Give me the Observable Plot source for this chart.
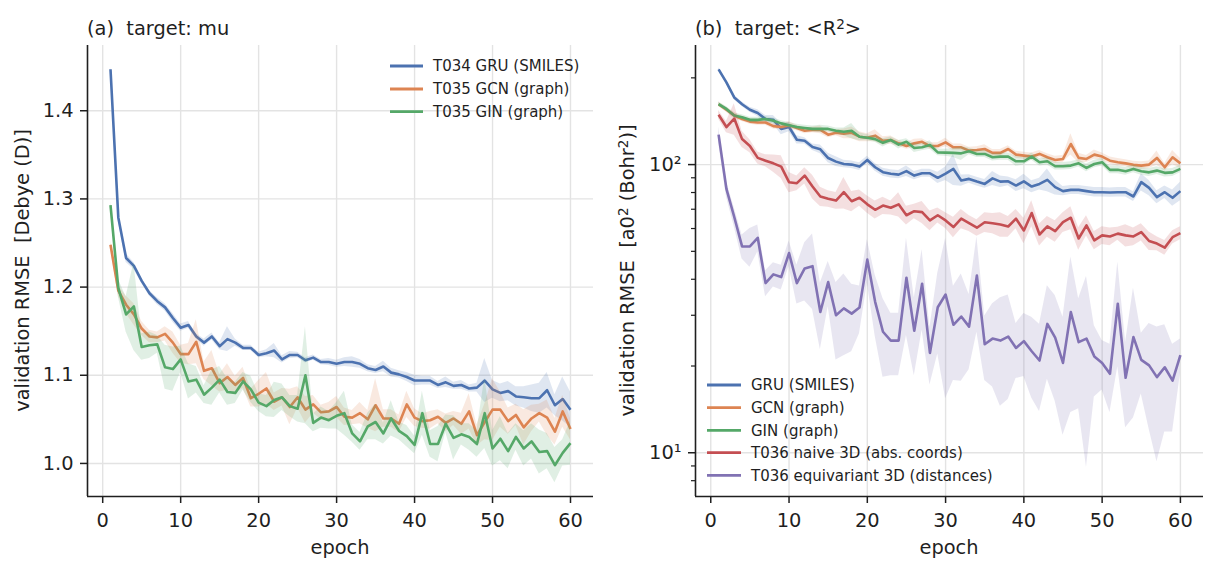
<!DOCTYPE html>
<html><head><meta charset="utf-8">
<script src="https://cdn.jsdelivr.net/npm/d3@7"></script>
<script src="https://cdn.jsdelivr.net/npm/@observablehq/plot@0.6"></script>
<style>
html,body{margin:0;padding:0;background:#fff;}
#wrap{position:relative;width:1217px;height:573px;overflow:hidden;}
#wrap > svg{position:absolute;top:0;}
#wrap text{white-space:pre;}
</style></head><body><div id="wrap"></div>
<script>
// ---------- data ----------
const epochs = d3.range(1, 61);
const xTicks = [0, 10, 20, 30, 40, 50, 60];
const muTicks = [1.0, 1.1, 1.2, 1.3, 1.4];
const r2Ticks = [10, 100];
const r2MinorTicks = [8, 9, 20, 30, 40, 50, 60, 70, 80, 90, 200];

const muNames = ["T034 GRU (SMILES)", "T035 GCN (graph)", "T035 GIN (graph)"];
const muGRU = [1.447,1.279,1.233,1.224,1.207,1.193,1.184,1.177,1.165,1.154,
  1.157,1.144,1.137,1.144,1.133,1.141,1.137,1.131,1.131,1.123,
  1.125,1.128,1.118,1.123,1.123,1.117,1.120,1.115,1.115,1.113,
  1.115,1.115,1.113,1.108,1.106,1.110,1.103,1.101,1.098,1.094,
  1.094,1.094,1.089,1.092,1.088,1.089,1.085,1.086,1.094,1.084,
  1.080,1.082,1.076,1.075,1.074,1.074,1.083,1.066,1.073,1.061];
const muGRUStd = [0.003,0.004,0.005,0.004,0.003,0.003,0.004,0.004,0.005,0.004,
  0.004,0.003,0.004,0.004,0.004,0.014,0.004,0.003,0.003,0.003,
  0.004,0.008,0.004,0.004,0.003,0.003,0.003,0.003,0.004,0.004,
  0.005,0.006,0.005,0.004,0.004,0.006,0.005,0.004,0.005,0.006,
  0.005,0.005,0.004,0.006,0.004,0.005,0.004,0.005,0.025,0.010,
  0.010,0.011,0.011,0.012,0.015,0.017,0.020,0.012,0.025,0.020];
const muGCN = [1.248,1.196,1.180,1.169,1.153,1.144,1.143,1.147,1.137,1.124,
  1.124,1.138,1.105,1.108,1.091,1.098,1.089,1.097,1.074,1.079,
  1.085,1.070,1.075,1.064,1.075,1.061,1.067,1.058,1.059,1.064,
  1.053,1.052,1.057,1.050,1.066,1.051,1.051,1.045,1.067,1.052,
  1.048,1.049,1.053,1.046,1.051,1.045,1.059,1.032,1.047,1.061,
  1.061,1.048,1.055,1.041,1.051,1.057,1.052,1.036,1.059,1.039];
const muGCNStd = [0.004,0.006,0.010,0.012,0.008,0.007,0.006,0.008,0.012,0.010,
  0.012,0.025,0.010,0.020,0.010,0.015,0.010,0.012,0.010,0.015,
  0.018,0.010,0.010,0.020,0.012,0.015,0.010,0.008,0.010,0.012,
  0.010,0.008,0.012,0.010,0.030,0.010,0.010,0.010,0.015,0.010,
  0.008,0.010,0.008,0.010,0.008,0.012,0.020,0.012,0.020,0.035,
  0.020,0.015,0.012,0.020,0.015,0.010,0.020,0.015,0.018,0.012];
const muGIN = [1.293,1.199,1.169,1.178,1.132,1.134,1.135,1.109,1.107,1.118,
  1.093,1.095,1.078,1.086,1.095,1.081,1.080,1.093,1.084,1.069,
  1.065,1.072,1.075,1.065,1.062,1.100,1.046,1.052,1.049,1.054,
  1.057,1.034,1.025,1.042,1.047,1.034,1.051,1.037,1.031,1.021,
  1.057,1.022,1.022,1.045,1.029,1.033,1.030,1.022,1.057,1.017,
  1.028,1.014,1.030,1.017,1.025,1.013,1.014,0.998,1.012,1.023];
const muGINStd = [0.004,0.010,0.020,0.050,0.015,0.015,0.010,0.025,0.025,0.015,
  0.020,0.015,0.010,0.020,0.015,0.015,0.012,0.010,0.015,0.010,
  0.012,0.020,0.015,0.012,0.015,0.055,0.010,0.012,0.010,0.015,
  0.025,0.010,0.010,0.015,0.020,0.012,0.020,0.010,0.012,0.010,
  0.025,0.015,0.020,0.010,0.025,0.012,0.015,0.015,0.040,0.020,
  0.025,0.020,0.015,0.020,0.020,0.025,0.020,0.020,0.015,0.025];

const r2Names = ["GRU (SMILES)", "GCN (graph)", "GIN (graph)", "T036 naive 3D (abs. coords)", "T036 equivariant 3D (distances)"];
const r2GRU = [214,193,171,162,155,151,144,143,133,135,
  122,121,115,113,105.4,102.4,100.5,100,98.4,103.8,
  97.9,94.1,92.9,92.3,94.9,91.6,93.3,93.3,90,93,
  96.6,88.1,89.2,87.3,85.7,89.6,87.3,87.5,84.6,87.5,
  83.9,85.7,88.5,83.5,80.9,81.7,81.7,80.9,80.2,80.2,
  80,80.2,80.2,77.5,86.9,83,77.1,80.2,76.7,80.9];
const r2GRUStd = [3,3,3,3,3,4,4,5,6,5, 4,3,3,4,4,4,3,3,3,3,
  3,3,3,3,4,3,3,3,4,5, 12,4,3,3,3,5,4,3,4,5,
  4,4,8,5,3,3,3,3,3,3, 3,3,3,3,6,5,4,4,5,6];
const r2GCN = [162,155,148,144,141,140,140,136,135,137,
  134,131,132,132,127,129,128,129,125,124,
  126,121,121.7,118.5,116,118.5,120,116,116,119.4,
  114.8,114.8,111.8,112.4,113.3,109.8,109.8,113.3,108.3,107.4,
  106.6,108.9,106,103.8,104.6,117.9,105.5,104.6,108.3,106.6,
  103.2,101.9,101,99.8,99.2,100,105.5,97.9,106,101];
const r2GCNStd = [3,3,4,3,3,3,3,3,3,4, 3,3,3,4,3,3,5,6,5,4,
  6,4,4,3,3,4,3,3,3,4, 3,3,3,3,4,3,3,3,3,3,
  3,3,3,3,3,10,4,3,4,3, 3,3,3,3,3,3,6,3,6,4];
const r2GIN = [162,156,148,146,143,143,144,142,139,137,
  135,134,133,133,133,131,130,131,125,124,
  122.6,119,121.7,117.3,120,114.2,114.8,117,110.3,110,
  109.8,109.4,111.2,108.9,108.9,106,106.6,106.6,102.7,102.7,
  106.6,101.9,102.7,98.7,98.7,99.2,101,97.4,100.5,101.9,
  95.9,95.9,94.8,96.6,94.8,94,95.3,93.6,94,96.6];
const r2GINStd = [3,3,3,3,3,3,3,3,3,3, 3,3,3,4,3,3,4,8,4,3,
  3,4,3,4,3,4,3,4,3,3, 4,6,3,3,3,3,3,3,4,3,
  3,3,3,3,3,3,3,3,3,3, 3,3,3,3,3,3,3,3,3,3];
const r2Naive = [149,135,144.5,122.6,116,105.5,103.2,101,98.4,86.9,
  86.2,91.6,83.9,77.5,76.1,75,80.2,74.6,76.7,72.8,
  69.7,72.1,70.8,72.8,66.7,68.9,68.4,64,66.7,64,
  60.7,64.9,62.6,60.4,63.1,62.6,62,61,64.9,59.1,
  67.9,57.2,61,58.8,63.1,65.4,55.4,61.5,54.6,56.8,
  56.3,57.6,56.8,56.3,58.3,54.3,53.2,51.5,56,57.8];
const r2NaiveStd = [5,6,18,8,6,5,5,7,9,7, 5,6,8,6,5,5,10,6,5,5,
  5,5,4,7,5,4,6,5,4,4, 5,5,4,4,5,5,6,5,5,6,
  7,5,5,5,5,6,5,5,4,4, 4,3,5,4,4,4,3,3,3,3];
const r2Equiv = [127,82.4,65.8,52,52,55.7,38.8,41.6,40.7,49.3,
  38.8,43.6,44.4,30.8,39.1,30,31.7,30.4,31.9,46.8,
  33.4,26.3,24.5,24.5,40.5,26.5,38.6,22.2,32,35.4,
  27.8,29.7,27.4,41.2,23.8,24.9,24.5,25.3,23.1,24.4,
  22.5,20.9,28,25.1,20.5,30.8,24.2,24.9,21.6,20.5,
  18.8,32.9,18.2,25.2,21,20.1,18.3,19.8,17.8,21.8];
const r2EquivStd = [8,5,5,5,8,6,4,4,4,5, 6,10,13,8,7,9,10,8,6,8,
  8,8,6,6,15,8,12,5,10,20, 10,12,8,15,6,8,10,10,5,6,
  7,7,10,10,9,17,10,16,6,4, 5,13,6,12,5,8,9,8,6,3];

const colors = ["#4C72B0", "#DD8452", "#55A868", "#C44E52", "#8172B3"];

// ---------- helpers ----------
const xDomain = [-1.95, 62.95];
const muDomain = [0.9625, 1.474];
const r2Domain = [7.05, 259];
const FONT = "DejaVu Sans";
const INK = "#1f1f1f";

function rows(vals, std) {
  return epochs.map((e, i) => ({epoch: e, value: vals[i], lo: vals[i] - std[i], hi: vals[i] + std[i]}));
}
function seriesMarks(list) {
  return list.flatMap(s => [
    Plot.areaY(rows(s.vals, s.std), {x: "epoch", y1: "lo", y2: "hi", fill: s.color, fillOpacity: 0.18}),
    Plot.lineY(rows(s.vals, s.std), {x: "epoch", y: "value", stroke: s.color, strokeWidth: 2.6, strokeLinejoin: "round", strokeLinecap: "butt"})
  ]);
}
const gridStyle = {stroke: "#e3e3e3", strokeOpacity: 1, strokeWidth: 1.4};

const muSeries = [
  {vals: muGRU, std: muGRUStd, color: colors[0]},
  {vals: muGCN, std: muGCNStd, color: colors[1]},
  {vals: muGIN, std: muGINStd, color: colors[2]}
];
const r2Series = [
  {vals: r2GRU, std: r2GRUStd, color: colors[0]},
  {vals: r2GCN, std: r2GCNStd, color: colors[1]},
  {vals: r2GIN, std: r2GINStd, color: colors[2]},
  {vals: r2Naive, std: r2NaiveStd, color: colors[3]},
  {vals: r2Equiv, std: r2EquivStd, color: colors[4]}
];

const common = {
  height: 573, marginTop: 45, marginBottom: 77,
  style: {fontFamily: FONT, fontSize: "19.4px", color: INK, background: "transparent", overflow: "visible"}
};

const left = Plot.plot({
  ...common, width: 608, marginLeft: 87, marginRight: 15,
  x: {domain: xDomain},
  y: {domain: muDomain},
  marks: [
    Plot.gridX(xTicks, gridStyle),
    Plot.gridY(muTicks, gridStyle),
    ...seriesMarks(muSeries),
    Plot.axisX(xTicks, {tickSize: 7, tickPadding: 10, fontSize: 19.4, stroke: INK, strokeWidth: 1.5, fill: INK, label: null}),
    Plot.axisY(muTicks, {tickSize: 7, tickPadding: 7, fontSize: 19.4, stroke: INK, strokeWidth: 1.5, fill: INK, tickFormat: d3.format(".1f"), label: null}),
    Plot.ruleX([xDomain[0]], {stroke: INK, strokeWidth: 1.6}),
    Plot.ruleY([muDomain[0]], {stroke: INK, strokeWidth: 1.6})
  ]
});
left.style.left = "0px";

const supFmt = d => d === 10 ? "10¹" : d === 100 ? "10²" : String(d);
const right = Plot.plot({
  ...common, width: 609, marginLeft: 87, marginRight: 14,
  x: {domain: xDomain},
  y: {type: "log", domain: r2Domain},
  marks: [
    Plot.gridX(xTicks, gridStyle),
    Plot.gridY(r2Ticks, gridStyle),
    ...seriesMarks(r2Series),
    Plot.axisX(xTicks, {tickSize: 7, tickPadding: 10, fontSize: 19.4, stroke: INK, strokeWidth: 1.5, fill: INK, label: null}),
    Plot.axisY(r2Ticks, {tickSize: 7, tickPadding: 7, fontSize: 19.4, stroke: INK, strokeWidth: 1.5, fill: INK, tickFormat: supFmt, label: null}),
    Plot.axisY(r2MinorTicks, {tickSize: 4, tickPadding: 0, stroke: INK, strokeWidth: 1.2, tickFormat: () => "", label: null}),
    Plot.ruleX([xDomain[0]], {stroke: INK, strokeWidth: 1.6}),
    Plot.ruleY([r2Domain[0]], {stroke: INK, strokeWidth: 1.6})
  ]
});
right.style.left = "608px";

const wrap = document.getElementById("wrap");
wrap.appendChild(left);
wrap.appendChild(right);

// ---------- text overlay: titles, axis labels, legends ----------
const ov = d3.select(wrap).append("svg")
  .attr("width", 1217).attr("height", 573)
  .style("left", "0px").style("pointer-events", "none")
  .attr("font-family", FONT).attr("fill", INK);

function txt(x, y, size, anchor = "start", rotate = false) {
  const t = ov.append("text").attr("font-size", size).attr("text-anchor", anchor)
    .attr("xml:space", "preserve").style("white-space", "pre");
  if (rotate) t.attr("transform", `translate(${x},${y}) rotate(-90)`);
  else t.attr("x", x).attr("y", y);
  return t;
}
function addRich(t, parts) {
  parts.forEach(p => {
    const ts = t.append("tspan").text(p.s);
    if (p.sup) ts.attr("font-size", "0.7em").attr("baseline-shift", "0.45em");
  });
}
// titles
addRich(txt(87, 35, 19.4), [{s: "(a)  target: mu"}]);
addRich(txt(695, 35, 19.4), [{s: "(b)  target: <R"}, {s: "2", sup: true}, {s: ">"}]);
// x labels
addRich(txt(340, 554, 19.4, "middle"), [{s: "epoch"}]);
addRich(txt(949, 554, 19.4, "middle"), [{s: "epoch"}]);
// y labels
addRich(txt(29, 270.5, 19.4, "middle", true), [{s: "validation RMSE  [Debye (D)]"}]);
addRich(txt(634, 270.5, 19.4, "middle", true), [{s: "validation RMSE  [a0"}, {s: "2", sup: true}, {s: " (Bohr"}, {s: "2", sup: true}, {s: ")]"}]);

// legends
function legend(x0, x1, tx, ys, names, cols) {
  names.forEach((n, i) => {
    ov.append("line").attr("x1", x0).attr("x2", x1).attr("y1", ys[i]).attr("y2", ys[i])
      .attr("stroke", cols[i]).attr("stroke-width", 2.8);
    ov.append("text").attr("x", tx).attr("y", ys[i] + 5.4).attr("font-size", 15).text(n);
  });
}
legend(390, 423, 433, [66, 89, 111.7], muNames, colors);
legend(707, 741, 751, [385, 407.7, 430.3, 452.7, 475.3], r2Names, colors);
</script></body></html>
